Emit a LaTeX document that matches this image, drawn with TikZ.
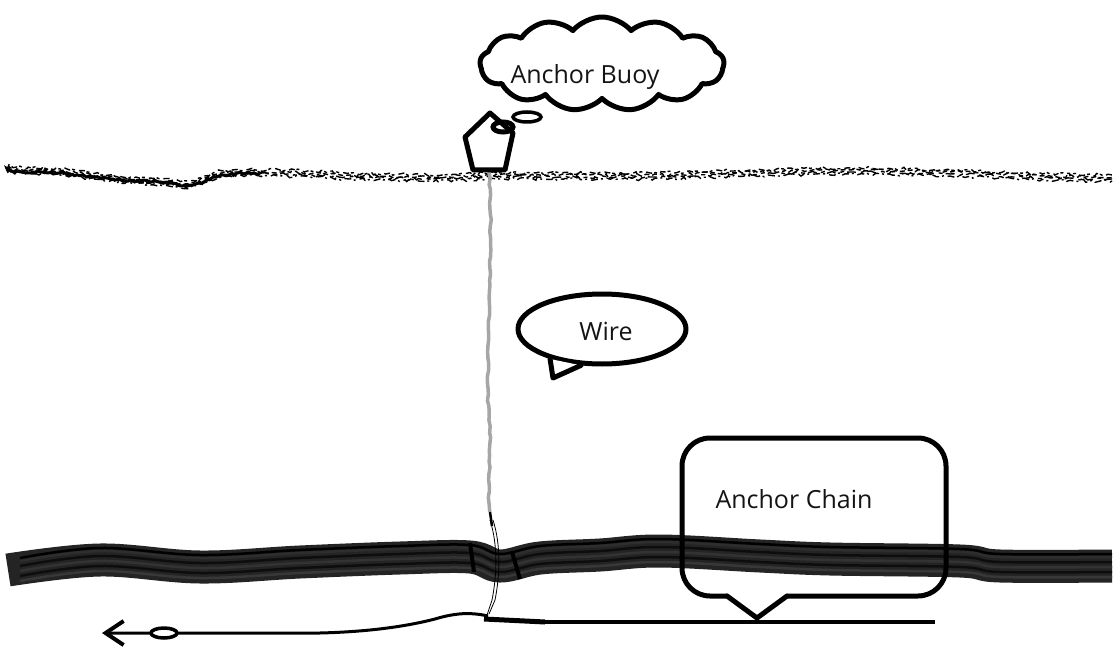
\documentclass[tikz,border=0pt]{standalone}
\usepackage{fontspec}
\setmainfont{Open Sans}
\usetikzlibrary{arrows.meta, shapes.symbols, shapes.geometric, decorations.pathmorphing}

\tikzset{
  labeltext/.style={font=\fontsize{25}{30}\selectfont, text=black!92},
  outline/.style={line width=5pt, line join=round, line cap=round},
  grainA/.style={dash pattern=on 7pt off 3pt on 2pt off 4pt},
  grainB/.style={dash pattern=on 4pt off 3pt on 9pt off 5pt},
  grainC/.style={dash pattern=on 5pt off 3pt},
  grainD/.style={dash pattern=on 3pt off 4pt on 6pt off 2pt},
  rough/.style={decorate, decoration={random steps, segment length=3pt, amplitude=1.5pt}},
}

\begin{document}
\begin{tikzpicture}[x=1pt, y=-1pt]
\useasboundingbox (0,0) rectangle (1116,647);
\pgfmathsetseed{7}

% sea surface
\foreach \dy/\g in {-3/grainA, -1/grainB, 1/grainC, 3/grainD}
  \draw[\g, rough, line width=1.4pt, yshift=\dy pt] plot[smooth] coordinates {
    (8,170) (60,172) (110,178) (160,182) (190,184) (222,174) (280,173)
    (350,176) (430,178) (490,176) (560,176) (650,176) (750,173)
    (850,171) (950,173) (1050,177) (1112,178)};
\draw[rough, line width=3pt] plot[smooth] coordinates {
  (8,171) (60,173) (110,179) (160,182) (190,185) (222,175) (260,173)};

% buoy and wire
\coordinate (buoybase) at (489,172);
\coordinate (wireend) at (490,512);
\coordinate (anchorpt) at (488,616);
\draw[line width=3.5pt, black!35, decorate,
      decoration={random steps, segment length=6pt, amplitude=0.8pt}]
  (buoybase) .. controls (494,260) and (485,350) .. (489,420)
  .. controls (492,460) and (487,490) .. (wireend);
\draw[outline, fill=white] (490,113) -- (465,137) -- (473,170) -- (505,170) -- (513,133) -- cycle;
\draw[line width=3.5pt] (527,117) ellipse [x radius=14pt, y radius=5pt];
\draw[line width=5pt] (503,127) ellipse [x radius=10pt, y radius=5pt];
\node[cloud, draw, outline, cloud puffs=13, cloud puff arc=100, aspect=2.6,
      minimum width=244pt, minimum height=94pt] (buoycloud) at (602,64) {};
\node[labeltext] (buoylabel) at (585,77) {Anchor Buoy};

% wire callout
\node[ellipse, draw, outline, minimum width=168pt, minimum height=70pt] (wirebubble) at (602,329) {};
\draw[outline, fill=white] (wirebubble.210) -- (553,378) -- (wirebubble.240);
\node[labeltext] (wirelabel) at (606,331) {Wire};

% anchor chain on the bottom
\draw[line width=33pt, black!86] plot[smooth, tension=0.6] coordinates {
  (8,570) (100,560) (200,567) (300,562) (400,558) (470,557) (500,566) (540,558)
  (600,555) (660,551) (760,556) (830,559) (960,561) (1000,566) (1112,566)};
\foreach \dy/\shade in {-11/black!78, -6/black!95, -1/black!80, 4/black!95, 9/black!82, 12/black}
  \draw[line width=2.5pt, \shade, yshift=\dy pt] plot[smooth, tension=0.6] coordinates {
    (20,570) (100,560) (200,567) (300,562) (400,558) (470,557) (500,566) (540,558)
    (600,555) (660,551) (760,556) (830,559) (960,561) (1000,566) (1112,566)};
\draw[line width=4pt] (470,543) -- (474,572);
\draw[line width=4pt] (512,552) -- (520,579);

% wire end through the chain
\draw[line width=2.5pt] (wireend) -- (492,526);
\draw[line width=0.8pt] (490,520) .. controls (498,545) and (497,575) .. (492,600) -- (487,615);
\draw[line width=0.8pt] (493,520) .. controls (501,545) and (500,575) .. (495,600) -- (489,614);

% sea bed line
\coordinate (arrowtip) at (102,633);
\coordinate (chainend) at (935,622);
\draw[line width=3pt, -{Straight Barb[length=18pt, width=24pt, line width=4pt]}]
  (anchorpt) .. controls (470,612) and (455,613) .. (435,619)
  .. controls (400,628) and (360,632) .. (320,633) -- (arrowtip);
\draw[line width=5pt] (484,619) -- (545,622);
\draw[line width=4pt] (545,622) -- (chainend);
\draw[line width=3.5pt, fill=white] (164,633) ellipse [x radius=13pt, y radius=5pt];

% anchor chain callout
\coordinate (chaintip) at (757,618);
\draw[outline, rounded corners=28pt] (727,596) -- (682,596) -- (682,438) -- (946,438) -- (946,596) -- (787,596);
\draw[outline] (727,596) -- (chaintip) -- (787,596);
\node[labeltext] (chainlabel) at (794,499) {Anchor Chain};
\end{tikzpicture}
\end{document}
